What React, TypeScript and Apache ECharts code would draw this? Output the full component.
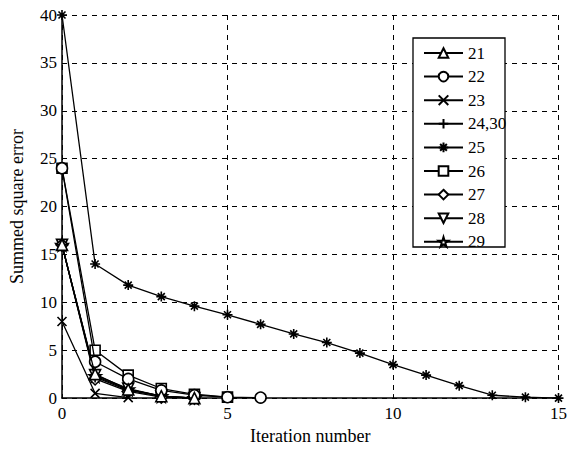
import React, { useEffect, useRef } from "react";
import * as echarts from "echarts";

const seriesNames = ["21", "22", "23", "24,30", "25", "26", "27", "28", "29"];
const s21 = [16, 2.5, 0.9, 0.2, 0];
const s22 = [24, 3.8, 2, 0.8, 0.3, 0.1, 0.05];
const s23 = [8, 0.5, 0.05];
const s2430 = [16, 2.2, 0.8, 0.2, 0];
const s25 = [40, 14, 11.8, 10.6, 9.6, 8.7, 7.7, 6.7, 5.8, 4.7, 3.5, 2.4, 1.3, 0.3, 0.1, 0];
const s26 = [24, 5, 2.4, 1, 0.4, 0.1];
const s27 = [16, 2, 0.7, 0.1, 0];
const s28 = [16, 2.4, 1, 0.2, 0];
const s29 = [16, 2.3, 0.9, 0.2, 0];
const xTicks = [0, 5, 10, 15];

const STAR = "path://M50,0L61,35L98,35L68,57L79,91L50,70L21,91L32,57L2,35L39,35Z";
const XMARK = "path://M0,0L10,10M10,0L0,10";
const PLUS = "path://M5,0L5,10M0,5L10,5";
const AST = "path://M5,0L5,10M0,5L10,5M1.5,1.5L8.5,8.5M8.5,1.5L1.5,8.5";

const FONT = "serif";

export default function App() {
  const ref = useRef<HTMLDivElement>(null);
  useEffect(() => {
    const chart = echarts.init(ref.current!, null, { renderer: "svg" });
    const data = [s21, s22, s23, s2430, s25, s26, s27, s28, s29];
    const symbols = ["triangle", "circle", XMARK, PLUS, AST, "rect", "diamond", "triangle", STAR];
    const sizes = [11, 11, 9, 11, 10, 10, 12, 11, 12];
    const rotates = [0, 0, 0, 0, 0, 0, 0, 180, 0];
    const series = seriesNames.map((name, i) => ({
      name,
      type: "line",
      data: data[i].map((v, k) => [k, v]),
      symbol: symbols[i],
      symbolSize: sizes[i],
      symbolRotate: rotates[i],
      showAllSymbol: true,
      lineStyle: { color: "#000", width: 1.3 },
      itemStyle: { color: "#fff", borderColor: "#000", borderWidth: 1.6 },
      z: 10 - i,
    }));
    chart.setOption({
      animation: false,
      backgroundColor: "#fff",
      textStyle: { fontFamily: FONT },
      grid: { left: 58, right: 4, top: 15, bottom: 49, containLabel: false },
      xAxis: {
        type: "value",
        min: 0,
        max: 15,
        interval: 5,
        name: "Iteration number",
        nameLocation: "middle",
        nameGap: 10,
        nameTextStyle: { color: "#000", fontSize: 18, fontFamily: FONT, padding: [12, 0, 0, 0] },
        axisLine: { show: true, onZero: false, lineStyle: { color: "#000", width: 1.5 } },
        axisTick: { show: true, inside: true, length: 4, lineStyle: { color: "#000" } },
        axisLabel: { color: "#000", fontSize: 17, fontFamily: FONT, margin: 7,
          formatter: (v: number) => (xTicks.includes(v) ? String(v) : "") },
        splitLine: { show: true, lineStyle: { color: "#000", type: [5, 5], width: 1 } },
      },
      yAxis: {
        type: "value",
        min: 0,
        max: 40,
        interval: 5,
        name: "Summed square error",
        nameLocation: "middle",
        nameGap: 36,
        nameTextStyle: { color: "#000", fontSize: 18, fontFamily: FONT },
        axisLine: { show: true, onZero: false, lineStyle: { color: "#000", width: 1.5 } },
        axisTick: { show: true, inside: true, length: 4, lineStyle: { color: "#000" } },
        axisLabel: { color: "#000", fontSize: 17, fontFamily: FONT, margin: 5 },
        splitLine: { show: true, lineStyle: { color: "#000", type: [5, 5], width: 1 } },
      },
      graphic: [
        {
          type: "rect",
          z: 50,
          shape: { x: 413, y: 38, width: 92, height: 209 },
          style: { fill: "#fff", stroke: "#000", lineWidth: 1.3 },
        },
      ],
      legend: {
        orient: "vertical",
        left: 423,
        top: 44.5,
        z: 60,
        padding: 0,
        itemWidth: 39,
        itemHeight: 12,
        itemGap: 6.6,
        textStyle: { color: "#000", fontSize: 17, fontFamily: FONT },
        data: seriesNames,
      },
      series,
    });
    return () => chart.dispose();
  }, []);
  return <div ref={ref} style={{ width: 570, height: 450, position: "absolute", left: 0, top: 0 }} />;
}
